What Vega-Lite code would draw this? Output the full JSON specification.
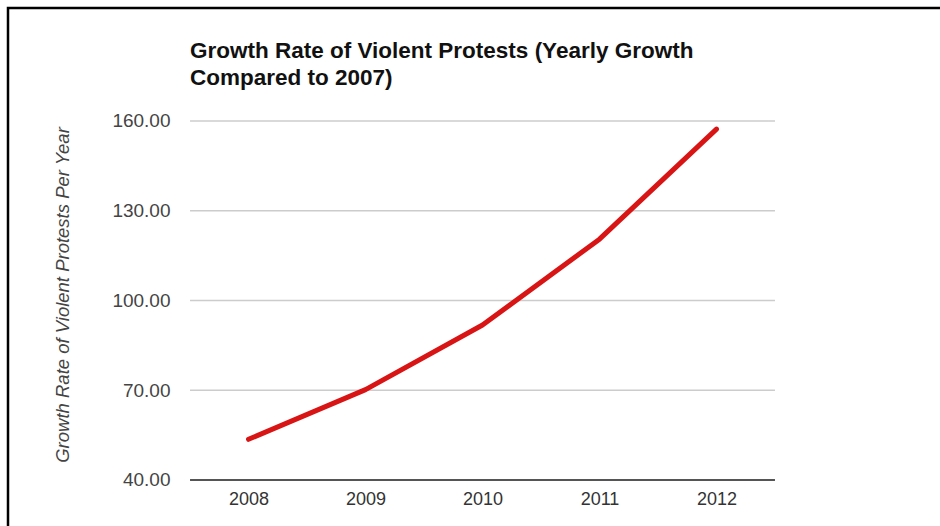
{
  "$schema": "https://vega.github.io/schema/vega-lite/v6.json",
  "width": 962,
  "height": 540,
  "autosize": {"type": "none"},
  "padding": {"left": 8, "top": 8, "right": -30, "bottom": -22},
  "background": "#ffffff",
  "config": {
    "view": {"stroke": "#000000", "strokeWidth": 2.5, "cornerRadius": 0},
    "font": "Liberation Sans"
  },
  "title": {
    "text": ["Growth Rate of Violent Protests (Yearly Growth", "Compared to 2007)"],
    "anchor": "start",
    "frame": "group",
    "orient": "top",
    "baseline": "top",
    "offset": -81,
    "dx": 182,
    "font": "Liberation Sans",
    "fontSize": 22.5,
    "fontWeight": "bold",
    "color": "#111111",
    "lineHeight": 27
  },
  "datasets": {
    "grid": [{"value": 70}, {"value": 100}, {"value": 130}, {"value": 160}],
    "series": [
      {"year": 2008, "value": 53.6},
      {"year": 2009, "value": 70.2},
      {"year": 2010, "value": 91.8},
      {"year": 2011, "value": 120.5},
      {"year": 2012, "value": 157.3}
    ]
  },
  "layer": [
    {
      "data": {"name": "grid"},
      "mark": {"type": "rule", "color": "#cccccc", "strokeWidth": 1.5},
      "encoding": {
        "y": {"field": "value", "type": "quantitative", "scale": {"domain": [17.27, 197.77], "nice": false, "zero": false}},
        "x": {"datum": 2007.5, "type": "quantitative", "scale": {"domain": [2005.944, 2014.167], "nice": false, "zero": false}},
        "x2": {"datum": 2012.5}
      }
    },
    {
      "data": {"values": [{}]},
      "mark": {"type": "rule", "color": "#555555", "strokeWidth": 2},
      "encoding": {
        "y": {"datum": 40, "type": "quantitative"},
        "x": {"datum": 2007.5, "type": "quantitative"},
        "x2": {"datum": 2012.5}
      }
    },
    {
      "data": {"name": "series"},
      "mark": {"type": "line", "color": "#d81414", "strokeWidth": 5, "strokeCap": "round", "strokeJoin": "round"},
      "encoding": {
        "x": {
          "field": "year",
          "type": "quantitative",
          "scale": {"domain": [2005.944, 2014.167], "nice": false, "zero": false},
          "axis": {
            "title": null,
            "offset": -68,
            "domain": false,
            "ticks": false,
            "grid": false,
            "values": [2008, 2009, 2010, 2011, 2012],
            "format": "d",
            "labelFlush": false,
            "labelPadding": 10,
            "labelFont": "Liberation Sans",
            "labelFontSize": 18,
            "labelColor": "#333333"
          }
        },
        "y": {
          "field": "value",
          "type": "quantitative",
          "scale": {"domain": [17.27, 197.77], "nice": false, "zero": false},
          "axis": {
            "title": "Growth Rate of Violent Protests Per Year",
            "offset": -182,
            "domain": false,
            "ticks": false,
            "grid": false,
            "values": [40, 70, 100, 130, 160],
            "format": ".2f",
            "labelPadding": 20,
            "labelFont": "Liberation Sans",
            "labelFontSize": 19,
            "labelColor": "#444444",
            "labelFlush": false,
            "titleFont": "Liberation Sans",
            "titleFontSize": 18.5,
            "titleFontStyle": "italic",
            "titleFontWeight": "normal",
            "titleColor": "#444444",
            "titleX": -128,
            "titleY": 286.5,
            "titleAngle": -90,
            "titleAlign": "center",
            "titleBaseline": "middle"
          }
        }
      }
    }
  ]
}
